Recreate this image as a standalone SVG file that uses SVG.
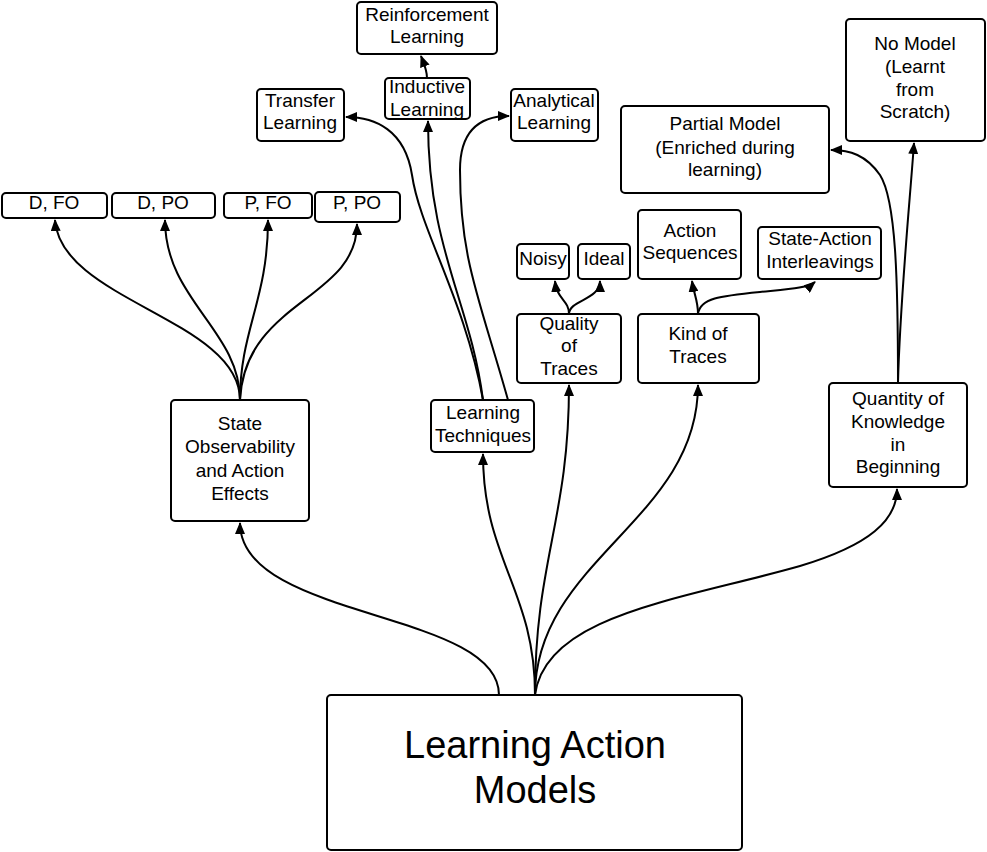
<svg xmlns="http://www.w3.org/2000/svg" width="987" height="852" viewBox="0 0 987 852">
<defs>
<marker id="ah" markerWidth="12" markerHeight="10" refX="11" refY="5" orient="auto" markerUnits="userSpaceOnUse">
<path d="M0,0 L12,5 L0,10 Z" fill="#000"/>
</marker>
<style>
rect{fill:#fff;stroke:#000;stroke-width:2}
text{font-family:"Liberation Sans",Arial,sans-serif;font-size:19px;fill:#000;text-anchor:middle}
.c path{fill:none;stroke:#000;stroke-width:2;marker-end:url(#ah)}
.big{font-size:38px}
</style>
</defs>
<rect x="0" y="0" width="987" height="852" style="fill:#fff;stroke:none"/>
<g class="c" id="connectors">
<path d="M240,400 C240,320 60,300 55,220"/>
<path d="M240,400 C240,330 165,300 165,220"/>
<path d="M240,400 C240,330 268,300 268,220"/>
<path d="M240,400 C245,300 357,300 357,224"/>
<path d="M499,695 C499,610 240,620 240,523"/>
<path d="M535,695 C535,590 483,560 483,454"/>
<path d="M535,695 C535,560 569,520 569,385"/>
<path d="M535,695 C535,560 698,520 698,385"/>
<path d="M535,695 C545,615 680,600 800,566 C870,545 897,520 897,489"/>
<path d="M483,400 C465,300 420,230 412,175 C405,130 375,117 346,117"/>
<path d="M483,400 C470,300 428,250 428,121"/>
<path d="M508,400 C480,300 460,260 460,170 C460,130 480,116 509,116"/>
<path d="M427,78 C427,70 424,64 421,56"/>
<path d="M569,314 C569,300 557,300 555,281"/>
<path d="M569,314 C569,300 600,300 600,281"/>
<path d="M698,314 C698,300 694,295 692,281"/>
<path d="M698,314 C700,298 720,296 760,292 C790,289 808,288 815,282"/>
<path d="M898,383 C898,280 896,200 880,175 C866,155 850,150 831,150"/>
<path d="M898,383 C900,300 910,200 914,143"/>
</g>
<g id="lam"><rect x="327" y="695" width="415" height="155" rx="4"/><text class="big" x="535" y="758">Learning Action</text><text class="big" x="535" y="803">Models</text></g>
<g id="state"><rect x="171" y="400" width="138" height="121" rx="4"/><text x="240" y="430">State</text><text x="240" y="453">Observability</text><text x="240" y="477">and Action</text><text x="240" y="500">Effects</text></g>
<g id="lt"><rect x="431" y="400" width="103" height="52" rx="4"/><text x="483" y="419">Learning</text><text x="483" y="442">Techniques</text></g>
<g id="qot"><rect x="517" y="314" width="104" height="69" rx="4"/><text x="569" y="330">Quality</text><text x="569" y="352">of</text><text x="569" y="375">Traces</text></g>
<g id="kot"><rect x="638" y="314" width="121" height="69" rx="4"/><text x="698" y="340">Kind of</text><text x="698" y="363">Traces</text></g>
<g id="noisy"><rect x="517" y="244" width="52" height="35" rx="4"/><text x="543" y="265">Noisy</text></g>
<g id="ideal"><rect x="578" y="244" width="52" height="35" rx="4"/><text x="604" y="265">Ideal</text></g>
<g id="as"><rect x="638" y="210" width="103" height="69" rx="4"/><text x="690" y="237">Action</text><text x="690" y="259">Sequences</text></g>
<g id="sai"><rect x="758" y="227" width="123" height="52" rx="4"/><text x="820" y="245">State-Action</text><text x="820" y="268">Interleavings</text></g>
<g id="qkb"><rect x="829" y="383" width="138" height="104" rx="4"/><text x="898" y="405">Quantity of</text><text x="898" y="428">Knowledge</text><text x="898" y="451">in</text><text x="898" y="473">Beginning</text></g>
<g id="nomodel"><rect x="846" y="19" width="139" height="122" rx="4"/><text x="915" y="50">No Model</text><text x="915" y="73">(Learnt</text><text x="915" y="96">from</text><text x="915" y="118">Scratch)</text></g>
<g id="partial"><rect x="621" y="106" width="208" height="87" rx="4"/><text x="725" y="130">Partial Model</text><text x="725" y="154">(Enriched during</text><text x="725" y="176">learning)</text></g>
<g id="rl"><rect x="357" y="2" width="140" height="52" rx="4"/><text x="427" y="21">Reinforcement</text><text x="427" y="43">Learning</text></g>
<g id="il"><rect x="385" y="78" width="85" height="41" rx="4"/><text x="427" y="93">Inductive</text><text x="427" y="116">Learning</text></g>
<g id="tl"><rect x="257" y="89" width="87" height="52" rx="4"/><text x="300" y="107">Transfer</text><text x="300" y="129">Learning</text></g>
<g id="al"><rect x="511" y="89" width="87" height="52" rx="4"/><text x="554" y="107">Analytical</text><text x="554" y="129">Learning</text></g>
<g id="dfo"><rect x="2" y="193" width="105" height="25" rx="4"/><text x="54" y="209">D, FO</text></g>
<g id="dpo"><rect x="112" y="193" width="103" height="25" rx="4"/><text x="163" y="209">D, PO</text></g>
<g id="pfo"><rect x="224" y="193" width="88" height="25" rx="4"/><text x="268" y="209">P, FO</text></g>
<g id="ppo"><rect x="315" y="192" width="85" height="30" rx="4"/><text x="357" y="209">P, PO</text></g>
</svg>
